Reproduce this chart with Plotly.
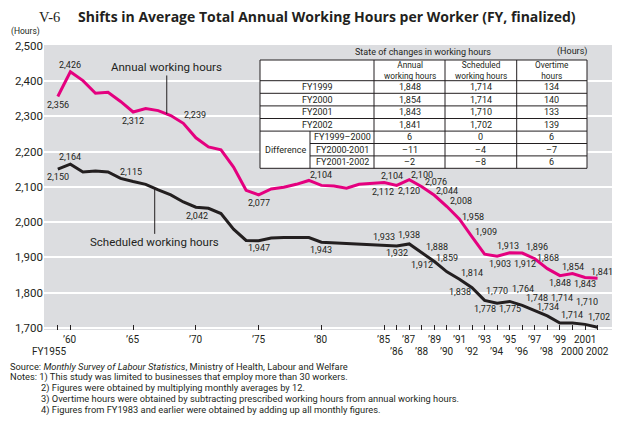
import plotly.graph_objects as go
import numpy as np

# ---------------- data ----------------
years = [1955, 1960, 1961, 1962, 1963, 1964, 1965, 1966, 1967, 1968, 1969,
         1970, 1971, 1972, 1973, 1974, 1975, 1976, 1977, 1978, 1979,
         1980, 1981, 1982, 1983, 1984, 1985, 1986, 1987, 1988, 1989,
         1990, 1991, 1992, 1993, 1994, 1995, 1996, 1997, 1998, 1999,
         2000, 2001, 2002]
annual = [2356, 2426, 2401, 2365, 2368, 2342, 2312, 2322, 2316, 2302, 2280,
          2239, 2213, 2205, 2156, 2090, 2077, 2094, 2099, 2107, 2118,
          2104, 2102, 2096, 2107, 2110, 2112, 2104, 2120, 2100, 2076,
          2044, 2008, 1958, 1909, 1903, 1913, 1912, 1896, 1868, 1848,
          1854, 1843, 1841]
scheduled = [2150, 2164, 2142, 2145, 2142, 2124, 2115, 2107, 2091, 2077, 2057,
             2042, 2039, 2024, 1980, 1948, 1947, 1955, 1956, 1956, 1956,
             1943, 1941, 1940, 1938, 1936, 1933, 1932, 1938, 1912, 1888,
             1859, 1838, 1814, 1778, 1770, 1775, 1764, 1748, 1734, 1714,
             1714, 1710, 1702]
labeled_years = [1955, 1960, 1965, 1970, 1975, 1980, 1985, 1986, 1987, 1988,
                 1989, 1990, 1991, 1992, 1993, 1994, 1995, 1996, 1997, 1998,
                 1999, 2000, 2001, 2002]

tick_years = [1955, 1960, 1965, 1970, 1975, 1980, 1985, 1986, 1987, 1988, 1989,
              1990, 1991, 1992, 1993, 1994, 1995, 1996, 1997, 1998, 1999,
              2000, 2001, 2002]
tick_text = ["FY1955", "’60", "’65", "’70", "’75", "’80", "’85", "’86", "’87",
             "’88", "’89", "’90", "’91", "’92", "’93", "’94", "’95", "’96",
             "’97", "’98", "’99", "2000", "2001", "2002"]
y_ticks = [1700, 1800, 1900, 2000, 2100, 2200, 2300, 2400, 2500]

table_rows = ["FY1999", "FY2000", "FY2001", "FY2002"]
table_annual = [1848, 1854, 1843, 1841]
table_sched = [1714, 1714, 1710, 1702]
table_overtime = [134, 140, 133, 139]
diff_rows = ["FY1999–2000", "FY2000-2001", "FY2001-2002"]
diff_annual = [6, -11, -2]
diff_sched = [0, -4, -8]
diff_overtime = [6, -7, 6]
table_headers = ["Annual<br>working hours", "Scheduled<br>working hours",
                 "Overtime<br>hours"]

notes = [
    "Source: <i>Monthly Survey of Labour Statistics</i>, Ministry of Health, Labour and Welfare",
    "Notes: 1) This study was limited to businesses that employ more than 30 workers.",
    "2) Figures were obtained by multiplying monthly averages by 12.",
    "3) Overtime hours were obtained by subtracting prescribed working hours from annual working hours.",
    "4) Figures from FY1983 and earlier were obtained by adding up all monthly figures.",
]

# ---------------- layout helpers ----------------
OFF = 8                       # page body margin of the browser
W, H = 612, 413
PL, PR, PT, PB = 44, 612, 45, 330   # plot area in page pixels
L, R, T, B = PL - OFF, W - (PR - OFF), PT - OFF, H - (PB - OFF)
X0, X1 = 1957.9, 2003.15
Y0, Y1 = 1694, 2502
PINK = "#e4007f"
BLACK = "#231f20"
FONT = "Roboto"


def pos(y):
    # axis break: FY1955 is drawn one slot before 1960
    return 1959 if y == 1955 else y


xpos = [pos(y) for y in years]


def px(x):
    return (x - OFF - L) / (W - L - R)


def py(y):
    return ((H - B) - (y - OFF)) / (H - T - B)


def fmt(v):
    return f"{v:,}" if v >= 0 else "–" + f"{-v:,}"


# label offsets (pixels): dx, dy(up)
pink_off = {1955: (0, -8), 1960: (0, 7), 1965: (0, -9), 1970: (-1, 23), 1975: (0, -8),
            1980: (0, 10), 1985: (-1, -9), 1986: (-5, 9), 1987: (0, -11), 1988: (0, 12),
            1989: (2, 13), 1990: (0, 16), 1991: (2, 18), 1992: (1, 20), 1993: (1, 22),
            1994: (3, -8), 1995: (-2, 7), 1996: (3, -11), 1997: (2, 12), 1998: (1, 11),
            1999: (0, -7), 2000: (1, 7), 2001: (0, -7), 2002: (4, 6)}
black_off = {1955: (0, -8), 1960: (0, 7), 1965: (-2, 10), 1970: (1, -9), 1975: (0, -7),
             1980: (0, -8), 1985: (0, 9), 1986: (0, -7), 1987: (0, 9), 1988: (0, -12),
             1989: (3, 15), 1990: (0, 14), 1991: (1, -13), 1992: (0, 15), 1993: (0, -9),
             1994: (0, 12), 1995: (0, -8), 1996: (1, 16), 1997: (2, 13), 1998: (1, 9),
             1999: (2, 25), 2000: (0, 8), 2001: (2, 22), 2002: (1, 10)}

fig = go.Figure()
fig.add_trace(go.Scatter(x=xpos, y=annual, mode="lines",
                         line=dict(color=PINK, width=3), hoverinfo="skip"))
fig.add_trace(go.Scatter(x=xpos, y=scheduled, mode="lines",
                         line=dict(color=BLACK, width=3), hoverinfo="skip"))

ann = []
lab_font = dict(family=FONT, size=9, color=BLACK)
for yr in labeled_years:
    i = years.index(yr)
    dx, dy = pink_off[yr]
    ann.append(dict(x=xpos[i], y=annual[i], text=fmt(annual[i]), showarrow=False,
                    xanchor="center", yanchor="middle",
                    xshift=dx, yshift=dy, font=lab_font))
    dx, dy = black_off[yr]
    ann.append(dict(x=xpos[i], y=scheduled[i], text=fmt(scheduled[i]), showarrow=False,
                    xanchor="center", yanchor="middle",
                    xshift=dx, yshift=dy, font=lab_font))

# series leader labels
xa = 1967.68
ann.append(dict(x=xa, y=float(np.interp(xa, xpos, annual)), text="Annual working hours",
                showarrow=True, arrowhead=0, arrowwidth=1, arrowcolor=BLACK,
                ax=0, ay=-47, standoff=0, font=dict(family=FONT, size=11.5, color=BLACK)))
xs = 1966.72
ann.append(dict(x=xs, y=float(np.interp(xs, xpos, scheduled)), text="Scheduled working hours",
                showarrow=True, arrowhead=0, arrowwidth=1, arrowcolor=BLACK,
                ax=0, ay=54, standoff=0, font=dict(family=FONT, size=11.5, color=BLACK)))

# x tick labels (two staggered rows)
for yr, t in zip(tick_years, tick_text):
    if yr == 1955:
        row, xsh = 1, -9
    elif yr <= 1980:
        row, xsh = 0, 0
    else:
        row, xsh = (yr - 1985) % 2, 0
    ann.append(dict(x=pos(yr), y=py(339.5 + 11.5 * row), yref="paper", text=t,
                    showarrow=False, xanchor="center", yanchor="middle",
                    xshift=xsh, font=dict(family=FONT, size=10, color=BLACK)))


def ptext(x, y, text, size=9, xanchor="center", family=FONT, pad=1):
    ann.append(dict(x=px(x), y=py(y), xref="paper", yref="paper", text=text,
                    showarrow=False, xanchor=xanchor, yanchor="middle", borderpad=pad,
                    font=dict(family=family, size=size, color=BLACK)))


# title & unit
ptext(37, 17, "V-6", size=14.5, xanchor="left", family="Liberation Serif")
ptext(76, 17, "<b>Shifts in Average Total Annual Working Hours per Worker (FY, finalized)</b>",
      size=14, xanchor="left", family="Open Sans")
ptext(9, 31, "(Hours)", size=8.5, xanchor="left")

# ---------------- table ----------------
TL, TR, TT, TB = 260, 587, 60, 168.3
c1, c2, c3, csub = 374, 445, 516.7, 310
hdr_b = 80.7
rh = 12.6
dstart = hdr_b + 4 * rh
dr = (TB - dstart) / 3
shapes = []
line = dict(color=BLACK, width=1)


def pline(x0, y0, x1, y1):
    shapes.append(dict(type="line", xref="paper", yref="paper", x0=px(x0), x1=px(x1),
                       y0=py(y0), y1=py(y1), line=line))


shapes.append(dict(type="rect", xref="paper", yref="paper", x0=px(TL), x1=px(TR),
                   y0=py(TT), y1=py(TB), line=line, fillcolor="white", layer="above"))
for cx in (c1, c2, c3):
    pline(cx, TT, cx, TB)
for k in range(5):
    ry = hdr_b + k * rh
    pline(TL, ry, TR, ry)
for k in (1, 2):
    ry = dstart + k * dr
    pline(csub, ry, TR, ry)
pline(csub, dstart, csub, TB)

col_centers = [(c1 + c2) / 2, (c2 + c3) / 2, (c3 + TR) / 2]

ptext(423, 52.5, "State of changes in working hours", size=9)
ptext(589, 52, "(Hours)", size=9, xanchor="right")
for cx, h in zip(col_centers, table_headers):
    ptext(cx, (TT + hdr_b) / 2, h, size=8.3, pad=0)
for k, name in enumerate(table_rows):
    cy = hdr_b + (k + 0.5) * rh
    ptext((TL + c1) / 2, cy, name)
    for cx, v in zip(col_centers, (table_annual[k], table_sched[k], table_overtime[k])):
        ptext(cx, cy, fmt(v))
ptext((TL + csub) / 2, (dstart + TB) / 2, "Difference")
for k, name in enumerate(diff_rows):
    cy = dstart + (k + 0.5) * dr
    ptext((csub + c1) / 2, cy, name)
    for cx, v in zip(col_centers, (diff_annual[k], diff_sched[k], diff_overtime[k])):
        ptext(cx, cy, fmt(v))

# ---------------- notes ----------------
note_y = [366, 377, 388, 399, 410]
note_x = [8, 8, 39, 39, 39]
for t, nx, ny in zip(notes, note_x, note_y):
    ptext(nx, ny, t, size=9.3, xanchor="left")

fig.update_layout(
    width=W, height=H, margin=dict(l=L, r=R, t=T, b=B, pad=0),
    paper_bgcolor="white", plot_bgcolor="#dcdde0", showlegend=False,
    xaxis=dict(range=[X0, X1], showgrid=False, zeroline=False, showline=False,
               tickvals=[pos(y) for y in tick_years], showticklabels=False,
               ticks="inside", ticklen=5, tickwidth=1, tickcolor=BLACK),
    yaxis=dict(range=[Y0, Y1], tickvals=y_ticks, tickformat=",", showgrid=True,
               gridcolor="white", gridwidth=1.5, zeroline=False, showline=False,
               ticks="", tickfont=dict(family=FONT, size=11.5, color=BLACK)),
    annotations=ann, shapes=shapes,
)

fig.write_html("out.html")
